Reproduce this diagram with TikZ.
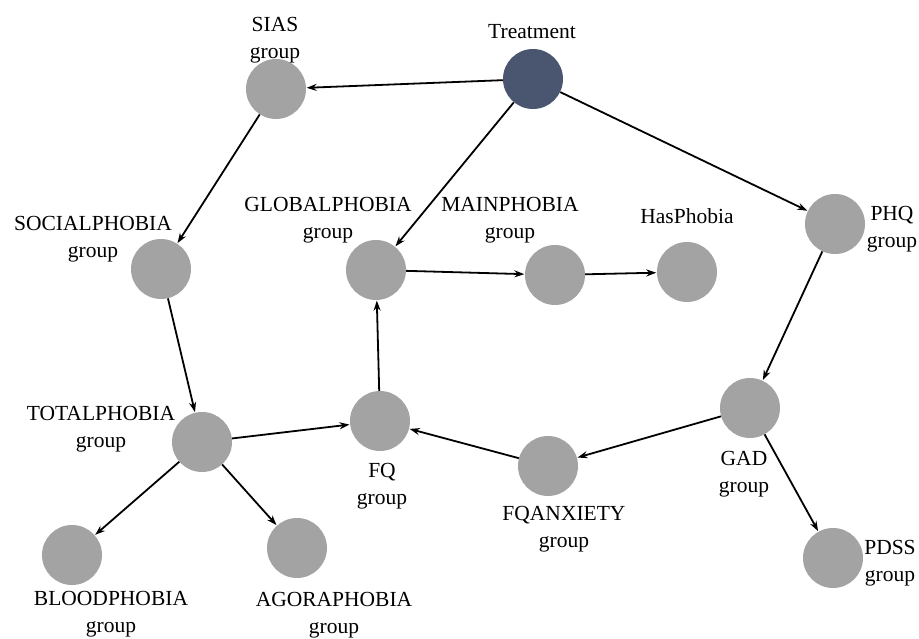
\documentclass[tikz,border=0pt]{standalone}
\usepackage{fontspec}
\setmainfont{Liberation Serif}
\usetikzlibrary{arrows.meta}
\definecolor{nodegray}{HTML}{A3A3A3}
\definecolor{navy}{HTML}{4A5570}
\begin{document}
\begin{tikzpicture}[x=1pt,y=-1pt,
  dot/.style={circle,fill=nodegray,draw=none,minimum size=60pt,inner sep=0pt},
  dark/.style={circle,fill=navy,draw=none,minimum size=60pt,inner sep=0pt},
  lbl/.style={align=center,inner sep=0pt,font=\fontsize{21.5}{27}\selectfont},
  conn/.style={-{Stealth[length=10pt,width=7pt]},line width=1.8pt,shorten >=0.5pt}]
\useasboundingbox (0,0) rectangle (919,639);
% nodes
\node[dark] (treat) at (533,79) {};
\node[dot] (sias) at (276,89) {};
\node[dot] (social) at (161,269) {};
\node[dot] (global) at (376,270) {};
\node[dot] (main) at (555,275) {};
\node[dot] (has) at (687,272) {};
\node[dot] (phq) at (835,224) {};
\node[dot] (total) at (202,442) {};
\node[dot] (fq) at (380,421) {};
\node[dot] (fqanx) at (548,466) {};
\node[dot] (gad) at (750,408) {};
\node[dot] (blood) at (72,555) {};
\node[dot] (agora) at (297,548) {};
\node[dot] (pdss) at (833,558) {};
% labels
\node[lbl] (ltreat) at (532,32) {Treatment};
\node[lbl] (lsias) at (275,40) {SIAS\\group};
\node[lbl] (lsocial) at (93,239) {SOCIALPHOBIA\\group};
\node[lbl] (lglobal) at (328,220) {GLOBALPHOBIA\\group};
\node[lbl] (lmain) at (510,220) {MAINPHOBIA\\group};
\node[lbl] (lhas) at (687,216) {HasPhobia};
\node[lbl] (lphq) at (892,229) {PHQ\\group};
\node[lbl] (ltotal) at (101,429) {TOTALPHOBIA\\group};
\node[lbl] (lfq) at (382,486) {FQ\\group};
\node[lbl] (lfqanx) at (564,529) {FQANXIETY\\group};
\node[lbl] (lgad) at (744,474) {GAD\\group};
\node[lbl] (lblood) at (111,614) {BLOODPHOBIA\\group};
\node[lbl] (lagora) at (334,615) {AGORAPHOBIA\\group};
\node[lbl] (lpdss) at (890,563) {PDSS\\group};
% connectors
\draw[conn] (treat) -- (sias);
\draw[conn] (treat) -- (global);
\draw[conn] (treat) -- (phq);
\draw[conn] (sias) -- (social);
\draw[conn] (social) -- (total);
\draw[conn] (total) -- (fq);
\draw[conn] (total) -- (blood);
\draw[conn] (total) -- (agora);
\draw[conn] (fq) -- (global);
\draw[conn] (global) -- (main);
\draw[conn] (main) -- (has);
\draw[conn] (phq) -- (gad);
\draw[conn] (gad) -- (fqanx);
\draw[conn] (gad) -- (pdss);
\draw[conn] (fqanx) -- (fq);
\end{tikzpicture}
\end{document}
